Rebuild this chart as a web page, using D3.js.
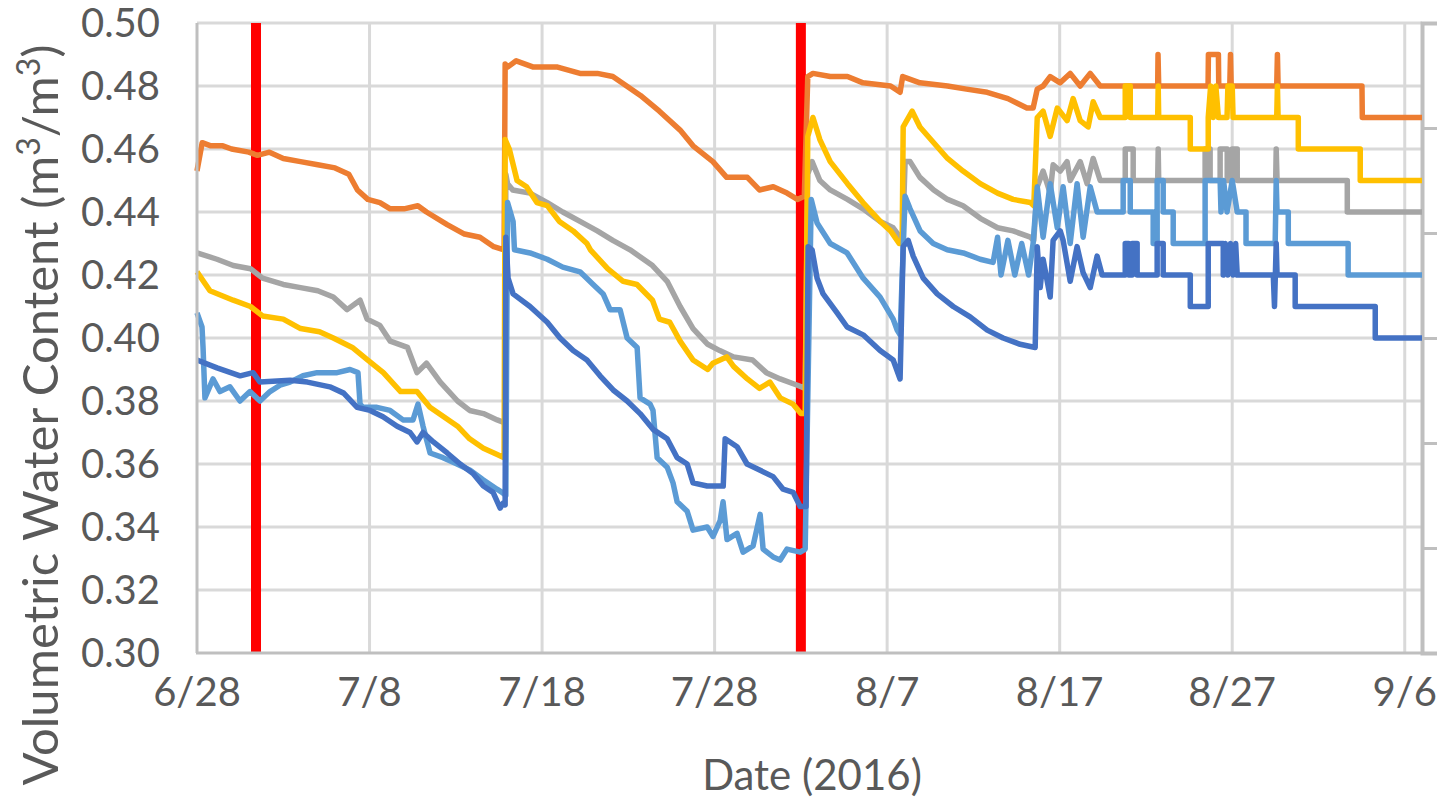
<!DOCTYPE html>
<html>
<head>
<meta charset="utf-8">
<script src="https://cdn.jsdelivr.net/npm/d3@7"></script>
<style>
  html, body { margin: 0; padding: 0; background: #fff; }
  svg { display: block; }
  text { font-family: Lato, "Open Sans", sans-serif; fill: #595959; }
</style>
</head>
<body>
<svg id="chart" width="1443" height="806"></svg>
<script>
// day offsets from 6/28/2016, volumetric water content
const orange = [[0,0.453],[0.3,0.462],[0.8,0.461],[1.5,0.461],[2,0.460],[3,0.459],[3.5,0.458],[4.2,0.459],[5,0.457],[6,0.456],[7,0.455],[8,0.454],[8.8,0.452],[9.3,0.447],[9.9,0.444],[10.6,0.443],[11.2,0.441],[12,0.441],[12.8,0.442],[13.3,0.440],[14.5,0.436],[15.5,0.433],[16.4,0.432],[17.2,0.429],[17.8,0.428],[17.86,0.487],[18.0,0.486],[18.5,0.488],[19.5,0.486],[20.9,0.486],[22.2,0.484],[23.2,0.484],[24.1,0.483],[24.9,0.480],[25.7,0.477],[26.8,0.472],[28.0,0.466],[28.75,0.461],[29.9,0.456],[30.7,0.451],[31.9,0.451],[32.6,0.447],[33.4,0.448],[34.2,0.446],[34.8,0.444],[35.2,0.445],[35.4,0.483],[35.7,0.484],[36.7,0.483],[37.7,0.483],[38.6,0.481],[40.2,0.480],[40.75,0.478],[40.9,0.483],[41.9,0.481],[43.5,0.480],[44.6,0.479],[45.8,0.478],[47.0,0.476],[48.1,0.473],[48.46,0.473],[48.7,0.479],[49.04,0.480],[49.45,0.483],[50.03,0.481],[50.61,0.484],[51.19,0.480],[51.77,0.484],[52.35,0.480],[55.68,0.48],[55.7,0.49],[55.74,0.48],[58.6,0.48],[58.62,0.49],[59.2,0.49],[59.22,0.48],[59.86,0.48],[59.9,0.49],[59.94,0.48],[62.58,0.48],[62.62,0.49],[62.66,0.48],[67.52,0.48],[67.54,0.47],[71,0.47]];

const gray = [[0,0.427],[1.16,0.425],[2.1,0.423],[3.1,0.422],[3.8,0.419],[5.0,0.417],[6.0,0.416],[7.0,0.415],[7.9,0.413],[8.7,0.409],[9.45,0.412],[9.86,0.406],[10.6,0.404],[11.2,0.399],[12.2,0.397],[12.75,0.389],[13.3,0.392],[14.1,0.386],[15.1,0.380],[15.8,0.377],[16.6,0.376],[17.4,0.374],[17.86,0.373],[17.9,0.452],[18.0,0.449],[18.3,0.447],[19.3,0.446],[20.3,0.443],[21.2,0.440],[22.2,0.437],[23.2,0.434],[24.1,0.431],[25.1,0.428],[26.4,0.423],[27.25,0.418],[28.0,0.410],[28.75,0.403],[29.6,0.398],[30.3,0.396],[31.1,0.394],[32.2,0.393],[33.0,0.389],[33.8,0.387],[34.8,0.385],[35.25,0.384],[35.4,0.452],[35.65,0.456],[36.1,0.450],[36.7,0.447],[37.7,0.444],[38.6,0.441],[39.6,0.437],[40.35,0.435],[40.75,0.432],[40.9,0.432],[41.04,0.456],[41.33,0.456],[41.9,0.451],[42.7,0.447],[43.5,0.444],[44.4,0.442],[45.4,0.438],[46.4,0.435],[47.3,0.434],[48.3,0.432],[48.5,0.431],[48.7,0.448],[49.04,0.453],[49.45,0.446],[49.62,0.455],[50.03,0.453],[50.43,0.456],[50.61,0.450],[51.19,0.456],[51.59,0.449],[51.94,0.457],[52.35,0.450],[53.8,0.45],[53.8,0.46],[54.26,0.46],[54.26,0.45],[55.68,0.45],[55.71,0.46],[55.74,0.45],[58.43,0.45],[58.43,0.46],[58.72,0.46],[58.72,0.45],[59.3,0.45],[59.3,0.46],[59.71,0.46],[59.71,0.45],[60.0,0.45],[60.0,0.46],[60.29,0.46],[60.29,0.45],[62.52,0.45],[62.55,0.46],[62.6,0.45],[66.67,0.45],[66.67,0.44],[71,0.44]];

const yellow = [[0,0.421],[0.75,0.415],[2.1,0.412],[3.1,0.410],[3.8,0.407],[5.0,0.406],[6.0,0.403],[7.1,0.402],[7.9,0.400],[9.0,0.397],[9.9,0.393],[10.8,0.389],[11.8,0.383],[12.75,0.383],[13.5,0.378],[14.3,0.375],[15.1,0.372],[15.8,0.368],[16.6,0.365],[17.4,0.363],[17.8,0.362],[17.86,0.463],[18.1,0.460],[18.55,0.450],[19.1,0.448],[19.7,0.443],[20.3,0.442],[21.0,0.437],[21.8,0.434],[22.6,0.430],[22.8,0.428],[23.8,0.422],[24.7,0.418],[25.5,0.417],[26.4,0.412],[26.8,0.406],[27.4,0.405],[28.0,0.399],[28.75,0.393],[29.6,0.390],[29.9,0.392],[30.7,0.394],[31.1,0.391],[31.9,0.387],[32.6,0.384],[33.2,0.386],[33.8,0.381],[34.55,0.379],[35.0,0.376],[35.25,0.376],[35.4,0.464],[35.7,0.470],[36.1,0.463],[36.7,0.456],[37.7,0.449],[38.6,0.443],[39.6,0.437],[40.2,0.434],[40.7,0.430],[40.87,0.430],[40.93,0.467],[41.45,0.472],[41.9,0.467],[42.7,0.462],[43.5,0.457],[44.4,0.453],[45.4,0.449],[46.4,0.446],[47.3,0.444],[48.3,0.443],[48.5,0.442],[48.7,0.470],[49.04,0.472],[49.45,0.464],[49.86,0.473],[50.43,0.469],[50.78,0.476],[51.19,0.469],[51.65,0.467],[51.94,0.475],[52.35,0.470],[53.8,0.47],[53.8,0.48],[54.09,0.48],[54.09,0.47],[55.68,0.47],[55.71,0.48],[55.74,0.47],[57.57,0.47],[57.57,0.46],[58.61,0.46],[58.61,0.47],[58.75,0.48],[58.9,0.47],[59.05,0.48],[59.2,0.47],[59.7,0.47],[59.75,0.48],[60.0,0.48],[60.05,0.47],[62.58,0.47],[62.62,0.48],[62.66,0.47],[63.83,0.47],[63.83,0.46],[67.42,0.46],[67.42,0.45],[71,0.45]];

const lightBlue = [[0,0.408],[0.29,0.4035],[0.35,0.397],[0.46,0.381],[0.93,0.387],[1.33,0.383],[1.91,0.3845],[2.49,0.380],[3.07,0.383],[3.65,0.380],[4.23,0.383],[4.81,0.385],[5.39,0.386],[6.14,0.388],[6.96,0.389],[8.12,0.389],[8.87,0.390],[9.33,0.389],[9.45,0.379],[9.62,0.378],[10.43,0.378],[11.19,0.377],[11.94,0.374],[12.52,0.374],[12.75,0.378],[12.81,0.379],[13.1,0.372],[13.51,0.3635],[14.26,0.362],[15.07,0.360],[15.83,0.358],[16.58,0.355],[17.39,0.352],[17.68,0.351],[17.9,0.350],[18.0,0.443],[18.32,0.437],[18.4,0.428],[19.3,0.427],[20.3,0.425],[21.2,0.4225],[22.2,0.421],[22.96,0.417],[23.54,0.414],[23.94,0.409],[24.52,0.409],[24.93,0.400],[25.51,0.397],[25.68,0.381],[26.26,0.379],[26.43,0.377],[26.67,0.362],[27.25,0.359],[27.59,0.354],[27.83,0.348],[28.41,0.345],[28.75,0.339],[29.57,0.340],[29.91,0.337],[30.32,0.342],[30.49,0.348],[30.72,0.336],[31.3,0.338],[31.65,0.332],[32.23,0.334],[32.64,0.344],[32.81,0.333],[33.39,0.3305],[33.8,0.3295],[34.2,0.333],[34.96,0.332],[35.25,0.333],[35.6,0.444],[35.94,0.4365],[36.7,0.430],[37.68,0.427],[38.61,0.419],[39.59,0.413],[40.35,0.406],[40.58,0.4025],[40.75,0.401],[41.04,0.445],[41.33,0.441],[41.91,0.434],[42.67,0.430],[43.48,0.428],[44.41,0.427],[45.39,0.425],[46.14,0.424],[46.4,0.432],[46.6,0.420],[47.0,0.431],[47.4,0.420],[47.8,0.430],[48.2,0.420],[48.46,0.430],[48.7,0.448],[49.04,0.432],[49.45,0.449],[49.86,0.435],[50.2,0.448],[50.61,0.430],[51.01,0.449],[51.36,0.432],[51.77,0.448],[52.17,0.440],[53.68,0.44],[53.68,0.45],[54.09,0.45],[54.09,0.44],[55.42,0.44],[55.42,0.43],[55.65,0.43],[55.65,0.45],[56.0,0.45],[56.0,0.44],[56.58,0.44],[56.58,0.43],[58.43,0.43],[58.43,0.45],[59.3,0.45],[59.35,0.44],[59.5,0.45],[59.7,0.44],[60.0,0.45],[60.29,0.44],[60.8,0.44],[60.8,0.43],[62.49,0.43],[62.55,0.45],[62.6,0.44],[63.25,0.44],[63.25,0.43],[66.72,0.43],[66.72,0.42],[71,0.42]];

const darkBlue = [[0,0.393],[1.16,0.3905],[2.5,0.388],[3.25,0.389],[3.65,0.386],[5.4,0.3866],[6.4,0.386],[7.7,0.3845],[8.5,0.3825],[9.28,0.378],[10.03,0.377],[10.78,0.375],[11.6,0.372],[12.35,0.370],[12.75,0.367],[13.1,0.370],[13.7,0.367],[14.5,0.3635],[15.25,0.360],[16.0,0.357],[16.6,0.353],[17.16,0.351],[17.57,0.346],[17.74,0.3476],[17.86,0.347],[17.9,0.432],[18.03,0.419],[18.32,0.414],[19.3,0.410],[20.3,0.405],[21.04,0.400],[21.8,0.396],[22.6,0.393],[23.36,0.388],[24.12,0.3835],[24.93,0.380],[25.68,0.376],[26.43,0.371],[27.25,0.368],[27.83,0.362],[28.41,0.360],[28.75,0.354],[29.57,0.353],[30.5,0.353],[30.61,0.368],[31.3,0.3655],[31.88,0.360],[32.64,0.358],[33.39,0.356],[33.97,0.352],[34.55,0.351],[34.96,0.3465],[35.3,0.3465],[35.42,0.429],[35.65,0.428],[35.94,0.419],[36.29,0.414],[37.1,0.408],[37.68,0.4035],[38.61,0.401],[39.59,0.396],[40.35,0.393],[40.75,0.387],[40.93,0.429],[41.22,0.431],[41.51,0.426],[42.09,0.419],[42.9,0.414],[43.83,0.410],[44.81,0.4067],[45.8,0.4025],[46.72,0.400],[47.71,0.398],[48.58,0.397],[48.7,0.429],[48.87,0.416],[49.04,0.425],[49.45,0.413],[49.62,0.431],[50.03,0.434],[50.2,0.431],[50.61,0.418],[51.01,0.429],[51.36,0.4207],[51.77,0.416],[52.17,0.426],[52.46,0.42],[53.8,0.42],[53.8,0.43],[54.0,0.43],[54.0,0.42],[54.2,0.42],[54.2,0.43],[54.49,0.43],[54.49,0.42],[55.65,0.42],[55.65,0.43],[56.0,0.43],[56.0,0.42],[57.57,0.42],[57.57,0.41],[58.61,0.41],[58.61,0.43],[59.48,0.43],[59.48,0.42],[59.6,0.43],[59.75,0.42],[59.9,0.43],[60.05,0.42],[60.2,0.43],[60.29,0.42],[62.38,0.42],[62.45,0.41],[62.55,0.43],[62.6,0.42],[63.65,0.42],[63.65,0.41],[68.29,0.41],[68.29,0.40],[71,0.40]];

const eventDays = [3.42, 35.0];
const xTickDays = [0, 10, 20, 30, 40, 50, 60, 70];
const yTicks = [0.30, 0.32, 0.34, 0.36, 0.38, 0.40, 0.42, 0.44, 0.46, 0.48, 0.50];

const DAY = 86400000;
const t0 = Date.UTC(2016, 5, 28);
const toDate = d => new Date(t0 + d * DAY);

const margin = {top: 23, left: 197, right: 21, bottom: 153};
const W = 1443, H = 806;
const svg = d3.select('#chart');

const x = d3.scaleUtc()
    .domain([toDate(0), toDate(71)])
    .range([margin.left, W - margin.right]);
const y = d3.scaleLinear()
    .domain([0.30, 0.50])
    .range([H - margin.bottom, margin.top]);

const grid = svg.append('g');
grid.selectAll('.hg').data(yTicks.slice(1)).join('line')
    .attr('x1', x.range()[0]).attr('x2', x.range()[1])
    .attr('y1', d => y(d)).attr('y2', d => y(d))
    .attr('stroke', '#d9d9d9').attr('stroke-width', 3);
grid.selectAll('.vg').data(xTickDays.slice(1)).join('line')
    .attr('x1', d => x(toDate(d))).attr('x2', d => x(toDate(d)))
    .attr('y1', y(0.30)).attr('y2', y(0.50))
    .attr('stroke', '#d9d9d9').attr('stroke-width', 3);

// secondary axis on the right, no labels
const yRight = d3.scaleLinear().domain([0, 6]).range(y.range());
svg.append('g')
    .attr('transform', `translate(${x.range()[1]},0)`)
    .call(d3.axisRight(yRight).ticks(6).tickSize(15).tickFormat(''))
    .call(g => g.selectAll('line, path').attr('stroke', '#bfbfbf').attr('stroke-width', 3))
    .call(g => g.select('.domain').attr('stroke-width', 4));

// rain / irrigation events
svg.append('g').selectAll('line').data(eventDays).join('line')
    .attr('x1', d => x(toDate(d))).attr('x2', d => x(toDate(d)))
    .attr('y1', y(0.30)).attr('y2', y(0.50))
    .attr('stroke', '#ff0000').attr('stroke-width', 10);

const line = d3.line()
    .x(d => x(toDate(d[0])))
    .y(d => y(d[1]));

const series = [
  {data: orange, color: '#ED7D31'},
  {data: gray, color: '#A5A5A5'},
  {data: yellow, color: '#FFC000'},
  {data: lightBlue, color: '#5B9BD5'},
  {data: darkBlue, color: '#4472C4'}
];
svg.append('g').selectAll('path').data(series).join('path')
    .attr('d', d => line(d.data))
    .attr('fill', 'none')
    .attr('stroke', d => d.color)
    .attr('stroke-width', 5.5)
    .attr('stroke-linejoin', 'round');

// axes
svg.append('line')
    .attr('x1', x.range()[0]).attr('x2', x.range()[0])
    .attr('y1', y(0.30)).attr('y2', y(0.50))
    .attr('stroke', '#bfbfbf').attr('stroke-width', 3);
svg.append('line')
    .attr('x1', x.range()[0] - 1).attr('x2', x.range()[1])
    .attr('y1', y(0.30)).attr('y2', y(0.30))
    .attr('stroke', '#bfbfbf').attr('stroke-width', 3);

svg.append('g').selectAll('text').data(yTicks).join('text')
    .attr('x', 160).attr('y', d => y(d))
    .attr('dy', '0.36em')
    .attr('text-anchor', 'end')
    .attr('font-size', 40)
    .text(d => d3.format('.2f')(d));

svg.append('g').selectAll('text').data(xTickDays).join('text')
    .attr('x', d => x(toDate(d))).attr('y', 706)
    .attr('text-anchor', 'middle')
    .attr('font-size', 40)
    .text(d => d3.utcFormat('%-m/%-d')(toDate(d)));

svg.append('text')
    .attr('x', 812).attr('y', 790)
    .attr('text-anchor', 'middle')
    .attr('font-size', 42)
    .text('Date (2016)');

const yt = svg.append('text')
    .attr('transform', 'translate(58,415) rotate(-90)')
    .attr('text-anchor', 'middle')
    .attr('font-size', 49);
yt.append('tspan').text('Volumetric Water Content (m');
yt.append('tspan').attr('font-size', 32).attr('dy', -18).text('3');
yt.append('tspan').attr('dy', 18).text('/m');
yt.append('tspan').attr('font-size', 32).attr('dy', -18).text('3');
yt.append('tspan').attr('dy', 18).text(')');
</script>
</body>
</html>
